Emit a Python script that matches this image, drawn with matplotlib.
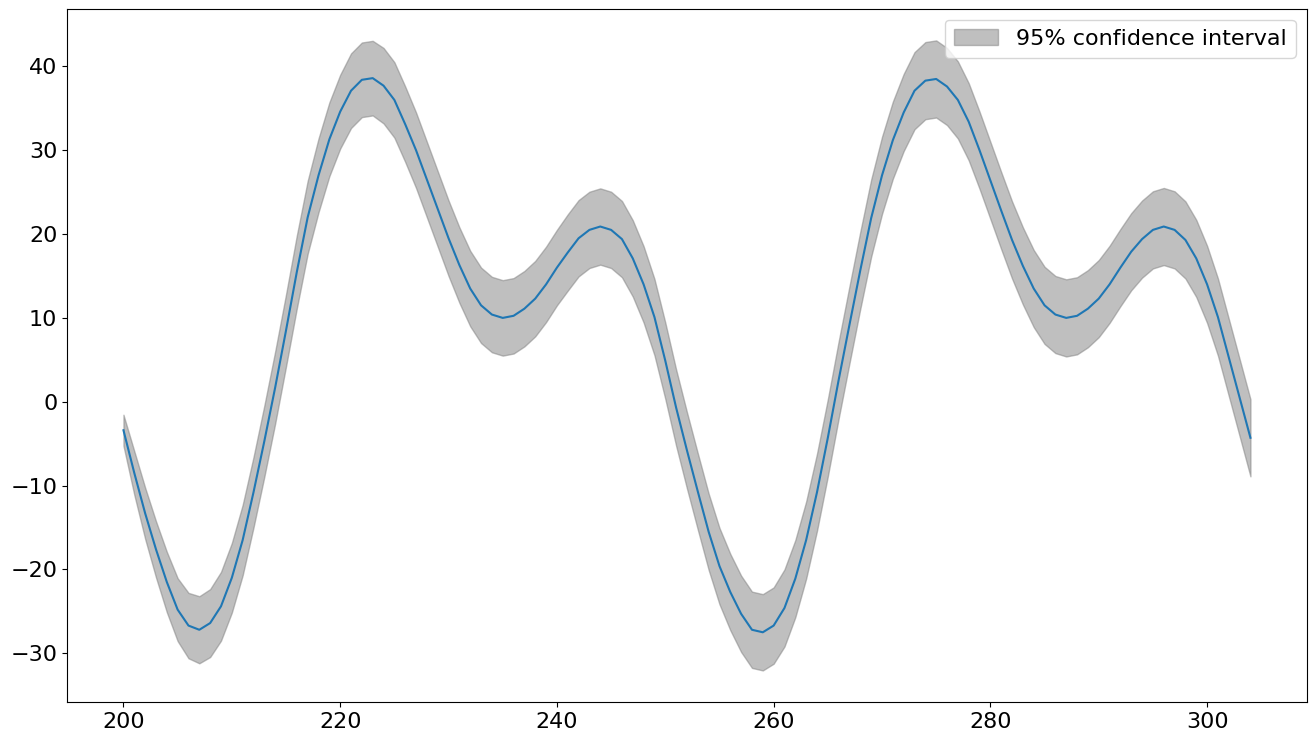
import matplotlib
matplotlib.use("Agg")
import matplotlib.pyplot as plt
import numpy as np

# forecast steps
steps = list(range(200, 305))

# forecast mean
forecast = [
    -3.4, -8.5, -13.3, -17.6, -21.5, -24.8, -26.7, -27.2, -26.4, -24.4,
    -21.0, -16.5, -10.8, -4.7, 1.7, 8.5, 15.5, 22.0, 27.0, 31.3,
    34.6, 37.1, 38.4, 38.6, 37.7, 36.0, 33.1, 30.0, 26.5, 23.0,
    19.5, 16.3, 13.5, 11.5, 10.4, 10.0, 10.25, 11.1, 12.3, 14.0,
    16.0, 17.8, 19.5, 20.5, 20.9, 20.5, 19.4, 17.1, 14.0, 10.1,
    4.9, -0.7, -5.8, -10.7, -15.5, -19.6, -22.7, -25.3, -27.2, -27.5,
    -26.7, -24.6, -21.1, -16.5, -10.8, -4.3, 2.6, 9.2, 15.7, 21.9,
    27.0, 31.2, 34.5, 37.1, 38.3, 38.5, 37.6, 36.0, 33.4, 30.0,
    26.4, 22.8, 19.3, 16.2, 13.5, 11.5, 10.4, 10.0, 10.25, 11.1,
    12.3, 14.0, 16.0, 17.9, 19.4, 20.5, 20.9, 20.5, 19.3, 17.1,
    14.0, 10.1, 5.3, 0.5, -4.3,
]

# half width of the 95% band
ci_half = [
    1.85, 2.6, 3.05, 3.35, 3.6, 3.75, 3.9, 4.0, 4.05, 4.1,
    4.15, 4.2, 4.2, 4.25, 4.3, 4.3, 4.35, 4.35, 4.4, 4.4,
    4.4, 4.45, 4.45, 4.45, 4.5, 4.5, 4.5, 4.5, 4.5, 4.5,
    4.5, 4.5, 4.5, 4.5, 4.5, 4.5, 4.5, 4.5, 4.5, 4.5,
    4.5, 4.55, 4.55, 4.55, 4.55, 4.55, 4.55, 4.55, 4.55, 4.55,
    4.55, 4.55, 4.55, 4.55, 4.55, 4.55, 4.55, 4.55, 4.55, 4.55,
    4.55, 4.6, 4.6, 4.6, 4.6, 4.6, 4.6, 4.6, 4.6, 4.6,
    4.6, 4.6, 4.6, 4.6, 4.6, 4.6, 4.6, 4.6, 4.6, 4.6,
    4.6, 4.6, 4.6, 4.6, 4.6, 4.6, 4.6, 4.6, 4.6, 4.6,
    4.6, 4.6, 4.6, 4.6, 4.6, 4.6, 4.6, 4.6, 4.6, 4.6,
    4.6, 4.6, 4.6, 4.6, 4.6,
]

x = np.array(steps)
mean = np.array(forecast)
half = np.array(ci_half)

fig, ax = plt.subplots(figsize=(13.16, 7.42), dpi=100)
ax.plot(x, mean, color="tab:blue")
ax.fill_between(x, mean - half, mean + half, color="gray", alpha=0.5,
                label="95% confidence interval")
ax.legend(loc="upper right", fontsize=16)
ax.tick_params(labelsize=16)
fig.subplots_adjust(left=0.051, right=0.993, bottom=0.054, top=0.988)
fig.savefig("out.png")
